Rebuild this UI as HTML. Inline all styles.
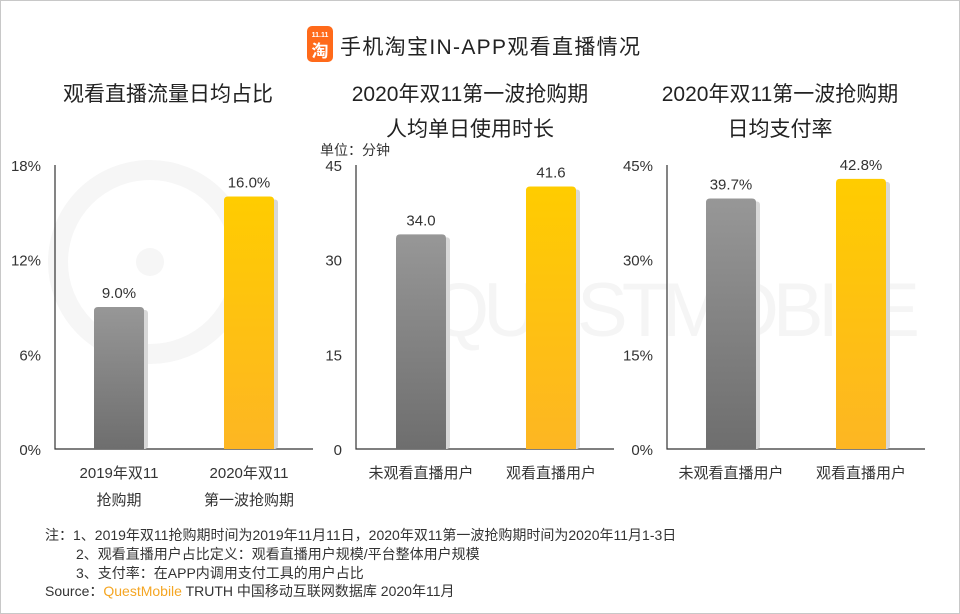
<!DOCTYPE html>
<html><head><meta charset="utf-8"><style>
body{margin:0;width:960px;height:614px;overflow:hidden;background:#fff;font-family:"Liberation Sans","Noto Sans CJK SC",sans-serif;}
#frame{position:absolute;left:0;top:0;width:958px;height:612px;border:1px solid #c8c8c8;}
</style></head><body>
<div id="frame"></div>
<svg width="960" height="614" style="position:absolute;left:0;top:0">
<defs>
<linearGradient id="gg" x1="0" y1="0" x2="0" y2="1"><stop offset="0" stop-color="#979797"/><stop offset="1" stop-color="#6e6e6e"/></linearGradient>
<linearGradient id="gy" x1="0" y1="0" x2="0" y2="1"><stop offset="0" stop-color="#ffcc00"/><stop offset="1" stop-color="#fdb623"/></linearGradient>
</defs>
<g fill="none" stroke="#f6f6f6" stroke-width="20">
<circle cx="150" cy="262" r="92"/><circle cx="150" cy="262" r="14" fill="#f6f6f6" stroke="none"/>
</g>
<text x="430" y="336" font-size="76" fill="#f5f5f5" textLength="490" lengthAdjust="spacing">QUESTMOBILE</text>
<g>
<rect x="307" y="26" width="26" height="36" rx="5" fill="#ff6a1a"/>
<text x="320" y="37" font-size="7" fill="#fff" text-anchor="middle" font-weight="bold">11.11</text>
<text x="320" y="57" font-size="17" fill="#fff" text-anchor="middle" font-weight="bold">淘</text>
</g>
<text x="340" y="54" font-size="21" fill="#222" textLength="300">手机淘宝IN-APP观看直播情况</text>
<g font-size="21" fill="#222" text-anchor="middle">
<text x="168" y="101">观看直播流量日均占比</text>
<text x="470" y="101">2020年双11第一波抢购期</text>
<text x="470" y="136">人均单日使用时长</text>
<text x="780" y="101">2020年双11第一波抢购期</text>
<text x="780" y="136">日均支付率</text>
</g>
<text x="320" y="155" font-size="14" fill="#333">单位：分钟</text>
<g id="charts"></g>
<g font-size="14" fill="#333">
<text x="45" y="540">注：1、2019年双11抢购期时间为2019年11月11日，2020年双11第一波抢购期时间为2020年11月1-3日</text>
<text x="76" y="559">2、观看直播用户占比定义：观看直播用户规模/平台整体用户规模</text>
<text x="76" y="578">3、支付率：在APP内调用支付工具的用户占比</text>
<text x="45" y="596">Source：<tspan fill="#f5a623">QuestMobile</tspan> TRUTH 中国移动互联网数据库 2020年11月</text>
</g>
</svg>
<script>
const panel1Values=[9.0,16.0];
const panel1Labels=["9.0%","16.0%"];
const panel1Ticks=["0%","6%","12%","18%"];
const panel1Cats=[["2019年双11","抢购期"],["2020年双11","第一波抢购期"]];
const panel2Values=[34.0,41.6];
const panel2Labels=["34.0","41.6"];
const panel2Ticks=["0","15","30","45"];
const panel2Cats=[["未观看直播用户"],["观看直播用户"]];
const panel3Values=[39.7,42.8];
const panel3Labels=["39.7%","42.8%"];
const panel3Ticks=["0%","15%","30%","45%"];
const panel3Cats=[["未观看直播用户"],["观看直播用户"]];
const panels=[
 {vals:panel1Values,labels:panel1Labels,ticks:panel1Ticks,cats:panel1Cats,max:18,ax:55,end:313,b0:94,id:'p1'},
 {vals:panel2Values,labels:panel2Labels,ticks:panel2Ticks,cats:panel2Cats,max:45,ax:356,end:614,b0:396,id:'p2'},
 {vals:panel3Values,labels:panel3Labels,ticks:panel3Ticks,cats:panel3Cats,max:45,ax:667,end:925,b0:706,id:'p3'}];
const NS="http://www.w3.org/2000/svg",root=document.getElementById('charts');
const base=449,top0=165;
function mk(t,a,p){const e=document.createElementNS(NS,t);for(const k in a)e.setAttribute(k,a[k]);(p||root).appendChild(e);return e;}
panels.forEach(P=>{
 const y=v=>base-(v/P.max)*(base-top0);
 const g=mk('g',{});
 
 
 const axis=mk('path',{d:`M${P.ax} ${top0}V${base}H${P.end}`,stroke:'#333',fill:'none','stroke-width':1.2},g);
 
 
 P.ticks.forEach((t,i)=>{
  const v=P.max*i/(P.ticks.length-1);
  const tx=mk('text',{x:P.ax-14,y:y(v)+6,'font-size':15,fill:'#333','text-anchor':'end'},g);tx.textContent=t;
  
  
 });
 P.vals.forEach((v,i)=>{
  const x=P.b0+i*130,w=50,yt=y(v),h=base-yt;
  mk('rect',{x:x+4,y:yt+3,width:w,height:h-3,rx:3,fill:'#d8d8d8'},g);
  const r=mk('path',{d:`M${x} ${base}V${yt+4}Q${x} ${yt} ${x+4} ${yt}H${x+w-4}Q${x+w} ${yt} ${x+w} ${yt+4}V${base}Z`,fill:i?'url(#gy)':'url(#gg)'},g);
  
  
  const l=mk('text',{x:x+w/2,y:yt-9,'font-size':15,fill:'#333','text-anchor':'middle'},g);l.textContent=P.labels[i];
  
  
  P.cats[i].forEach((c,j)=>{
   const t=mk('text',{x:x+w/2,y:478+j*27,'font-size':15,fill:'#333','text-anchor':'middle'},g);t.textContent=c;
   
   
  });
 });
});
</script>
</body></html>
